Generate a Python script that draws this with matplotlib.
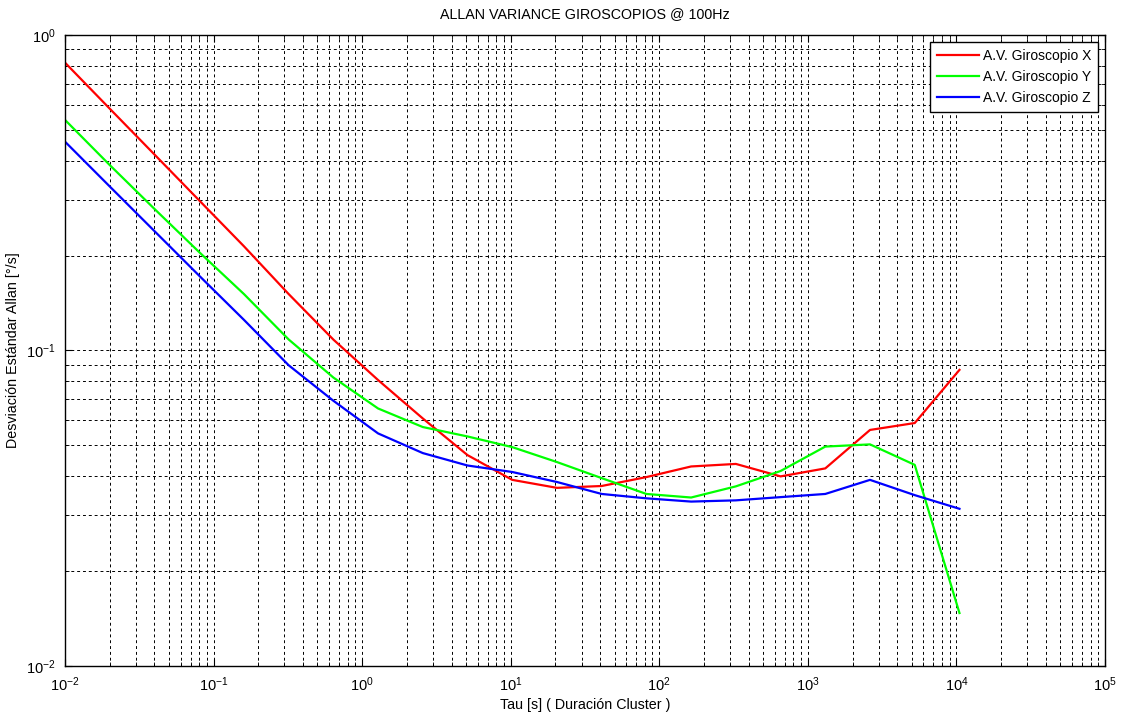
import numpy as np
import matplotlib
matplotlib.use("Agg")
import matplotlib.pyplot as plt
from matplotlib.ticker import LogLocator, NullFormatter

plt.rcParams['font.family'] = ['Liberation Sans', 'DejaVu Sans']
plt.rcParams['mathtext.default'] = 'regular'
plt.rcParams['axes.unicode_minus'] = False

# ---------- Data ----------
# cluster times: 0.01 s doubled each step (octave spacing)
tau = 0.01 * 2.0 ** np.arange(21)

gyro_x = [0.817, 0.584, 0.418, 0.299, 0.214, 0.151, 0.1083, 0.0806, 0.0609, 0.0466,
          0.0389, 0.0367, 0.0372, 0.0397, 0.0429, 0.0437, 0.0399, 0.0423, 0.0560, 0.0589,
          0.0868]
gyro_y = [0.538, 0.387, 0.281, 0.205, 0.151, 0.1084, 0.0821, 0.0655, 0.0572, 0.0534,
          0.0494, 0.0443, 0.0394, 0.0351, 0.0342, 0.0371, 0.0415, 0.0496, 0.0504, 0.0434,
          0.01472]
gyro_z = [0.459, 0.331, 0.239, 0.1726, 0.1251, 0.0898, 0.0693, 0.0546, 0.0473, 0.0432,
          0.0412, 0.0383, 0.0351, 0.0340, 0.0332, 0.0335, 0.0343, 0.0351, 0.0389, 0.0348,
          0.0315]

labels = ["A.V. Giroscopio X", "A.V. Giroscopio Y", "A.V. Giroscopio Z"]
colors = ["#ff0000", "#00ff00", "#0000ff"]

# ---------- Plot ----------
fig = plt.figure(figsize=(11.21, 7.18), dpi=100)
ax = fig.add_axes([0.058, 0.0724, 0.9277, 0.8789])

for vals, lab, col in zip([gyro_x, gyro_y, gyro_z], labels, colors):
    ax.loglog(tau, vals, color=col, lw=1.6, label=lab)

ax.set_xlim(1e-2, 1e5)
ax.set_ylim(1e-2, 1e0)

ax.xaxis.set_major_locator(LogLocator(base=10, numticks=10))
ax.xaxis.set_minor_locator(LogLocator(base=10, subs=np.arange(2, 10), numticks=20))
ax.yaxis.set_minor_locator(LogLocator(base=10, subs=np.arange(2, 10), numticks=20))
ax.xaxis.set_minor_formatter(NullFormatter())
ax.yaxis.set_minor_formatter(NullFormatter())

ax.grid(True, which='both', color='black', linestyle=(0, (3, 3)), linewidth=0.7)
ax.tick_params(which='both', direction='in', top=True, right=True, labelsize=10.5)
ax.tick_params(which='major', length=5, pad=7)
ax.tick_params(which='minor', length=3)
for sp in ax.spines.values():
    sp.set_linewidth(1.0)

ax.set_title("ALLAN VARIANCE GIROSCOPIOS @ 100Hz", fontsize=10.3, pad=12)
ax.set_xlabel("Tau [s] ( Duración Cluster )", fontsize=10.3)
ax.set_ylabel("Desviación Estándar Allan [°/s]", fontsize=10.3)
ax.xaxis.set_label_coords(0.5, -0.05)
ax.yaxis.set_label_coords(-0.043, 0.5)

leg = ax.legend(loc='upper right', fontsize=10, fancybox=False, framealpha=1,
                edgecolor='black', borderaxespad=0.5, handlelength=3.0,
                handletextpad=0.3, labelspacing=0.5, borderpad=0.5)
leg.get_frame().set_linewidth(1.0)

fig.savefig("out.png", dpi=100)
